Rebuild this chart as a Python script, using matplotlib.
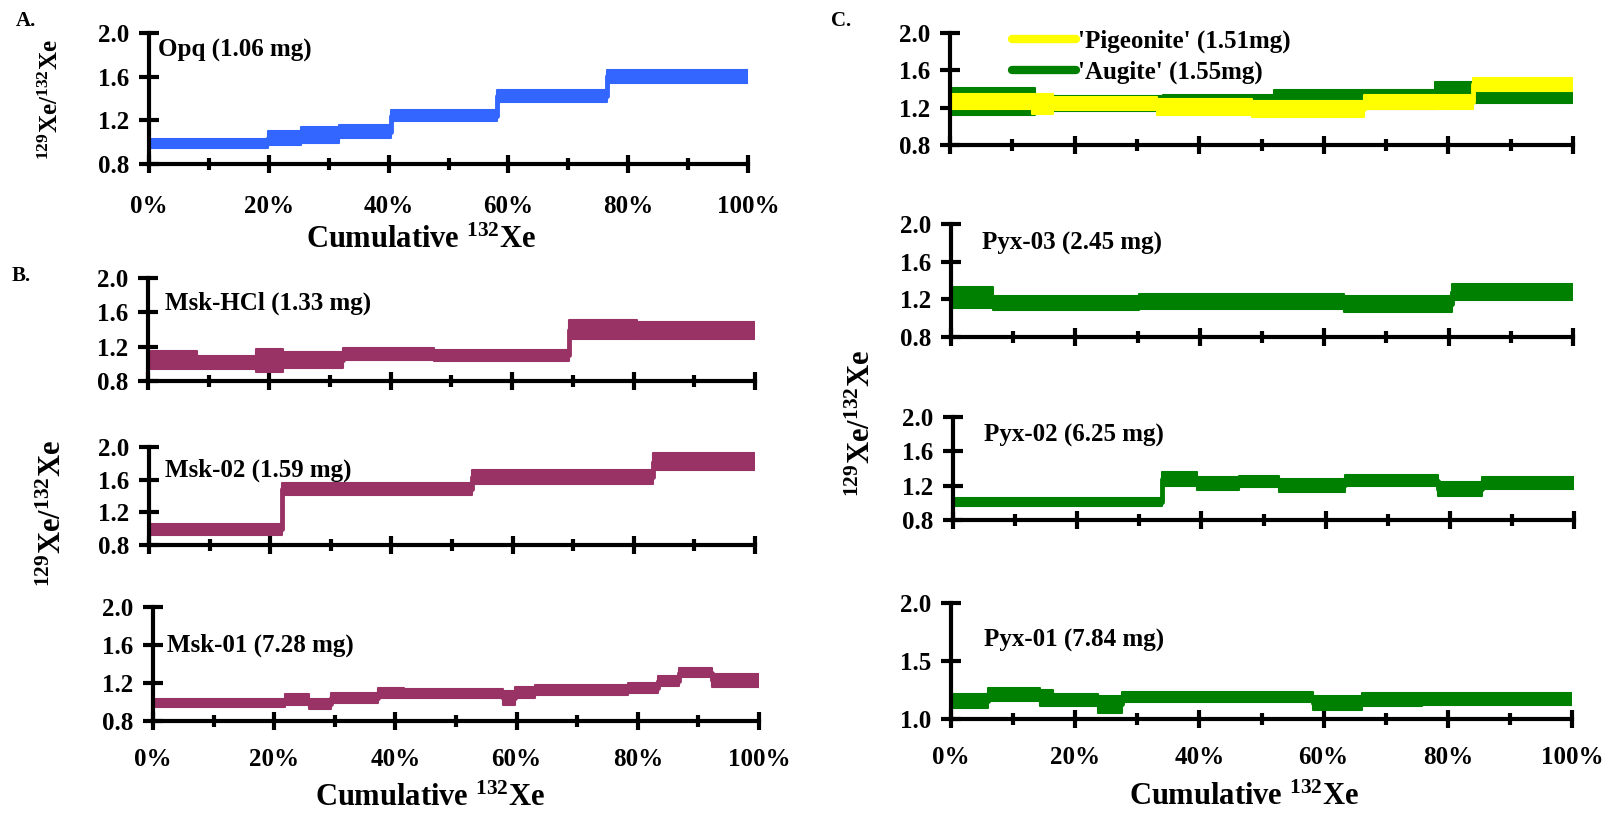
import matplotlib
matplotlib.use("Agg")
from matplotlib import pyplot as plt
from matplotlib.lines import Line2D
from matplotlib.ticker import MultipleLocator, FuncFormatter

plt.rcParams['font.family'] = ['Liberation Serif', 'DejaVu Serif']
plt.rcParams['font.weight'] = 'bold'
plt.rcParams['mathtext.fontset'] = 'custom'
plt.rcParams['mathtext.rm'] = 'Liberation Serif:bold'
plt.rcParams['mathtext.bf'] = 'Liberation Serif:bold'
plt.rcParams['mathtext.default'] = 'bf'

# cumulative 132Xe release (%) step edges, 129Xe/132Xe values and 1-sigma errors
opq_edges = [0, 19.8, 25.3, 31.7, 40.4, 58.1, 76.4, 100]
opq_vals = [0.99, 1.036, 1.066, 1.094, 1.242, 1.421, 1.602]
opq_errs = [0.04, 0.062, 0.07, 0.06, 0.05, 0.055, 0.058]

mskhcl_edges = [0, 8.1, 17.8, 22.3, 32.1, 47.1, 69.4, 80.6, 100]
mskhcl_vals = [1.044, 1.02, 1.037, 1.044, 1.114, 1.10, 1.40, 1.392]
mskhcl_errs = [0.106, 0.077, 0.13, 0.097, 0.074, 0.062, 0.116, 0.097]

msk02_edges = [0, 21.9, 53.3, 83.1, 100]
msk02_vals = [0.99, 1.486, 1.633, 1.82]
msk02_errs = [0.07, 0.078, 0.08, 0.106]

msk01_edges = [0, 21.7, 25.8, 29.4, 37.1, 41.4, 57.7, 59.8, 63.1, 78.4, 83.4, 86.8, 92.3, 100]
msk01_vals = [0.992, 1.024, 0.975, 1.045, 1.094, 1.09, 1.04, 1.104, 1.125, 1.15, 1.22, 1.31, 1.227]
msk01_errs = [0.042, 0.056, 0.052, 0.052, 0.056, 0.044, 0.073, 0.058, 0.052, 0.052, 0.052, 0.05, 0.065]

aug_edges = [0, 13.6, 34.2, 52.0, 77.8, 84.0, 100]
aug_vals = [1.267, 1.246, 1.25, 1.285, 1.37, 1.318]
aug_errs = [0.147, 0.082, 0.088, 0.10, 0.10, 0.065]

pig_edges = [0, 13.1, 16.5, 33.3, 48.5, 66.4, 84.0, 100]
pig_vals = [1.262, 1.236, 1.246, 1.208, 1.185, 1.26, 1.45]
pig_errs = [0.08, 0.107, 0.071, 0.09, 0.083, 0.077, 0.072]

pyx03_edges = [0, 6.7, 30.25, 63.2, 80.5, 100]
pyx03_vals = [1.217, 1.163, 1.177, 1.152, 1.28]
pyx03_errs = [0.114, 0.071, 0.075, 0.084, 0.085]

pyx02_edges = [0, 33.6, 39.3, 46.0, 52.5, 63.1, 78.1, 85.2, 100]
pyx02_vals = [1.007, 1.283, 1.225, 1.244, 1.205, 1.256, 1.166, 1.229]
pyx02_errs = [0.049, 0.082, 0.074, 0.064, 0.074, 0.064, 0.082, 0.07]

pyx01_edges = [0, 6.0, 14.3, 16.4, 23.75, 27.5, 58.3, 66.25, 75.8, 100]
pyx01_vals = [1.154, 1.214, 1.183, 1.166, 1.126, 1.186, 1.137, 1.171, 1.171]
pyx01_errs = [0.06, 0.057, 0.069, 0.05, 0.074, 0.043, 0.057, 0.057, 0.05]

BLUE = '#3366ff'
MAROON = '#993366'
GREEN = '#008000'
YELLOW = '#ffff00'

W, H = 1612, 815
fig = plt.figure(figsize=(W / 100, H / 100), dpi=100)


def make_axes(x0, x1, ytop, ybot):
    return fig.add_axes([x0 / W, 1 - ybot / H, (x1 - x0) / W, (ybot - ytop) / H])


def steps(ax, edges, vals, errs, color, z=2):
    # connecting step line, then the error boxes
    ax.step(edges, vals + [vals[-1]], where='post', color=color, lw=3.5, zorder=z)
    for i in range(len(vals)):
        ax.bar(edges[i], 2 * errs[i], width=edges[i + 1] - edges[i], bottom=vals[i] - errs[i],
               align='edge', color=color, edgecolor=color, lw=1.5, joinstyle='round', zorder=z)


def style(ax, ylim=(0.8, 2.0), ystep=0.4, xlabels=False, pad=13):
    ax.set_xlim(0, 100)
    ax.set_ylim(*ylim)
    for s in ['top', 'right']:
        ax.spines[s].set_visible(False)
    for s in ['left', 'bottom']:
        ax.spines[s].set_linewidth(3)
        ax.spines[s].set_zorder(5)
    ax.xaxis.set_major_locator(MultipleLocator(20))
    ax.xaxis.set_minor_locator(MultipleLocator(10))
    ax.yaxis.set_major_locator(MultipleLocator(ystep))
    ax.yaxis.set_major_formatter(FuncFormatter(lambda v, p: '%.1f' % v))
    ax.xaxis.set_major_formatter(FuncFormatter(lambda v, p: '%d%%' % round(v)))
    ax.tick_params(axis='x', which='major', direction='inout', length=13, width=3,
                   labelsize=18, pad=pad, labelbottom=xlabels)
    ax.tick_params(axis='x', which='minor', direction='inout', length=8.5, width=3)
    ax.tick_params(axis='y', which='major', direction='inout', length=14, width=3,
                   labelsize=18, pad=7)
    ax.patch.set_alpha(0)


# Panel A
axA = make_axes(149, 748, 33, 164)
steps(axA, opq_edges, opq_vals, opq_errs, BLUE)
style(axA, xlabels=True, pad=16)

# Panel B
axB1 = make_axes(148, 755, 278, 381)
steps(axB1, mskhcl_edges, mskhcl_vals, mskhcl_errs, MAROON)
style(axB1)
axB2 = make_axes(149, 755, 447, 545)
steps(axB2, msk02_edges, msk02_vals, msk02_errs, MAROON)
style(axB2)
axB3 = make_axes(153, 759, 607, 721)
steps(axB3, msk01_edges, msk01_vals, msk01_errs, MAROON)
style(axB3, xlabels=True)

# Panel C
axC1 = make_axes(950, 1573, 33, 145)
steps(axC1, aug_edges, aug_vals, aug_errs, GREEN, z=2)
steps(axC1, pig_edges, pig_vals, pig_errs, YELLOW, z=3)
style(axC1)
handles = [Line2D([], [], color=YELLOW, lw=6, solid_capstyle='round'),
           Line2D([], [], color=GREEN, lw=6, solid_capstyle='round')]
axC1.legend(handles, ["'Pigeonite' (1.51mg)", "'Augite' (1.55mg)"], loc='upper left',
            bbox_to_anchor=(1012 / W, 1 - 30 / H), bbox_transform=fig.transFigure,
            frameon=False, fontsize=18, handlelength=2.55, handletextpad=0.1,
            borderpad=0, borderaxespad=0, labelspacing=0.3)

axC2 = make_axes(951, 1573, 224, 337)
steps(axC2, pyx03_edges, pyx03_vals, pyx03_errs, GREEN)
style(axC2)
axC3 = make_axes(953, 1574, 417, 520)
steps(axC3, pyx02_edges, pyx02_vals, pyx02_errs, GREEN)
style(axC3)
axC4 = make_axes(951, 1572, 603, 719)
steps(axC4, pyx01_edges, pyx01_vals, pyx01_errs, GREEN)
style(axC4, ylim=(1.0, 2.0), ystep=0.5, xlabels=True)


def ftext(x, y, s, **kw):
    fig.text(x / W, 1 - y / H, s, **kw)


# panel letters
ftext(16, 21, 'A.', fontsize=15, va='center', ha='left')
ftext(12, 276, 'B.', fontsize=15, va='center', ha='left')
ftext(831, 21, 'C.', fontsize=15, va='center', ha='left')

# sample labels
ftext(158, 50, 'Opq (1.06 mg)', fontsize=18, va='center')
ftext(165, 303, 'Msk-HCl (1.33 mg)', fontsize=18, va='center')
ftext(165, 470, 'Msk-02 (1.59 mg)', fontsize=18, va='center')
ftext(167, 645, 'Msk-01 (7.28 mg)', fontsize=18, va='center')
ftext(982, 243, 'Pyx-03 (2.45 mg)', fontsize=18, va='center')
ftext(984, 435, 'Pyx-02 (6.25 mg)', fontsize=18, va='center')
ftext(984, 640, 'Pyx-01 (7.84 mg)', fontsize=18, va='center')

# axis titles
xl = r'Cumulative $^{132}$Xe'
yl = r'$^{129}$Xe/$^{132}$Xe'
ftext(421, 240, xl, fontsize=22, ha='center', va='center')
ftext(430, 798, xl, fontsize=22, ha='center', va='center')
ftext(1244, 797, xl, fontsize=22, ha='center', va='center')
ftext(51, 100, yl, fontsize=18, ha='center', va='center', rotation=90)
ftext(53, 514, yl, fontsize=22, ha='center', va='center', rotation=90)
ftext(862, 424, yl, fontsize=22, ha='center', va='center', rotation=90)

fig.savefig('out.png', dpi=100)
